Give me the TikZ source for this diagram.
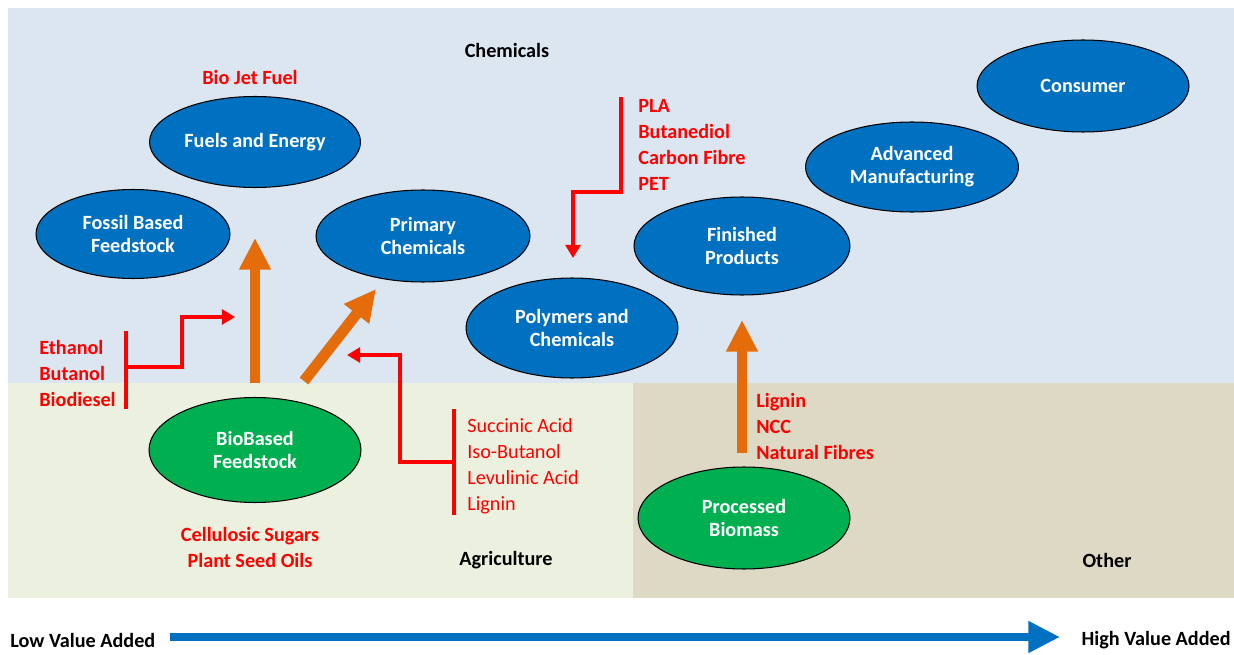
\documentclass[tikz,border=0pt]{standalone}
\usepackage{fontspec}
\setmainfont{Carlito}
\usetikzlibrary{shapes.geometric,arrows.meta}
\definecolor{bgblue}{HTML}{DCE6F1}
\definecolor{bggreen}{HTML}{EBF1DE}
\definecolor{bgtan}{HTML}{DDD9C4}
\definecolor{nodeblue}{HTML}{0070C0}
\definecolor{nodegreen}{HTML}{00B050}
\definecolor{arrorange}{HTML}{E46C0A}
\definecolor{txtred}{HTML}{FF0000}
\begin{document}
\begin{tikzpicture}[x=0.02cm,y=-0.02cm,
  font=\fontsize{11.5}{13}\selectfont\bfseries,
  oval/.style={ellipse, draw=black, line width=0.6pt, text=white, inner sep=0pt, align=center},
  bluenode/.style={oval, fill=nodeblue},
  greennode/.style={oval, fill=nodegreen},
  redlist/.style={text=txtred, align=left, anchor=west, inner sep=0pt, font=\fontsize{11.5}{14.8}\selectfont\bfseries},
  redlistreg/.style={text=txtred, align=left, anchor=west, inner sep=0pt, font=\fontsize{11.5}{14.8}\selectfont},
  plain/.style={inner sep=0pt},
  redline/.style={draw=txtred, line width=1.9pt},
  redarrow/.style={redline, -{Triangle[width=8.5pt,length=7.5pt]}},
  fatarrow/.style={draw=arrorange, line width=6.2pt, -{Triangle[width=17pt,length=18pt]}},
  valuearrow/.style={draw=nodeblue, line width=5.1pt, -{Triangle[width=17pt,length=18pt]}}
]
\useasboundingbox (0,0) rectangle (1234,655);
% backgrounds
\fill[bgblue] (8,8) rectangle (1234,383);
\fill[bggreen] (8,383) rectangle (633,598);
\fill[bgtan] (633,383) rectangle (1234,598);

% ellipses
\node[bluenode, minimum width=4.22cm, minimum height=1.82cm] (fuels) at (255,142) {Fuels and Energy};
\node[bluenode, minimum width=3.88cm, minimum height=1.78cm] (fossil) at (133,234) {Fossil Based\\Feedstock};
\node[bluenode, minimum width=4.28cm, minimum height=1.84cm] (primary) at (423,236) {Primary\\Chemicals};
\node[bluenode, minimum width=4.24cm, minimum height=2.0cm] (polymers) at (572,328) {Polymers and\\Chemicals};
\node[bluenode, minimum width=4.32cm, minimum height=1.96cm] (finished) at (742,246) {Finished\\Products};
\node[bluenode, minimum width=4.26cm, minimum height=1.8cm] (advanced) at (912,167) {Advanced\\Manufacturing};
\node[bluenode, minimum width=4.24cm, minimum height=1.84cm] (consumer) at (1083,86) {Consumer};
\node[greennode, minimum width=4.24cm, minimum height=2.1cm] (biobased) at (255,450) {BioBased\\Feedstock};
\node[greennode, minimum width=4.24cm, minimum height=2.04cm] (processed) at (744,518) {Processed\\Biomass};

% labels
\node[plain] (chem) at (507,50) {Chemicals};
\node[plain, text=txtred] (jet) at (250,77) {Bio Jet Fuel};
\node[redlist] (ethanol) at (39,373) {Ethanol\\Butanol\\Biodiesel};
\node[redlistreg] (succinic) at (467,466) {Succinic Acid\\Iso-Butanol\\Levulinic Acid\\Lignin};
\node[redlist] (pla) at (638,145) {PLA\\Butanediol\\Carbon Fibre\\PET};
\node[redlist] (lignin) at (756,426) {Lignin\\NCC\\Natural Fibres};
\node[plain, text=txtred, align=center, font=\fontsize{11.5}{14.8}\selectfont\bfseries] (cellulosic) at (250,547) {Cellulosic Sugars\\Plant Seed Oils};
\node[plain] (agri) at (506,560) {Agriculture};
\node[plain] (other) at (1107,560) {Other};
\node[plain, anchor=west] (low) at (10,640) {Low Value Added};
\node[plain, anchor=east] (high) at (1231,640) {High Value Added};

% coordinates
\coordinate (o1s) at (255,383);
\coordinate (o1e) at (255,238);
\coordinate (o2s) at (304,381);
\coordinate (o2e) at (376,289);
\coordinate (o3s) at (742,453);
\coordinate (o3e) at (742,320);
\coordinate (e1) at (126,331);
\coordinate (e2) at (126,409);
\coordinate (e3) at (126,367);
\coordinate (e4) at (182,317);
\coordinate (e5) at (235,317);
\coordinate (s1) at (454,409);
\coordinate (s2) at (454,515);
\coordinate (s3) at (454,462);
\coordinate (s4) at (400,355);
\coordinate (s5) at (347,355);
\coordinate (p1) at (621,97);
\coordinate (p2) at (573,192);
\coordinate (p3) at (573,258);
\coordinate (v1) at (170,637);
\coordinate (v2) at (1060,637);

% orange arrows
\draw[fatarrow] (o1s) -- (o1e);
\draw[fatarrow] (o2s) -- (o2e);
\draw[fatarrow] (o3s) -- (o3e);

% red brackets
\draw[redline] (e1) -- (e2);
\draw[redarrow] (e3) -| (e4) -- (e5);
\draw[redline] (s1) -- (s2);
\draw[redarrow] (s3) -| (s4) -- (s5);
\draw[redarrow] (p1) |- (p2) -- (p3);

% value arrow
\draw[valuearrow] (v1) -- (v2);
\end{tikzpicture}
\end{document}
